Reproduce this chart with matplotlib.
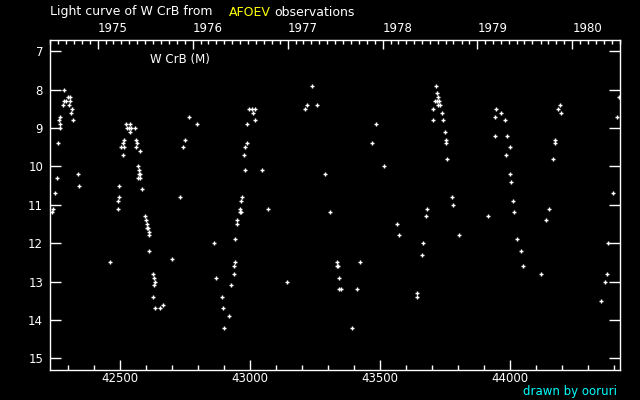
import datetime as dt
import matplotlib
matplotlib.use("Agg")
import matplotlib.pyplot as plt

# ---- data (JD - 2400000, visual magnitude) ----
jd = [42238, 42242, 42250, 42258, 42261, 42265, 42269, 42269, 42269, 42281,
      42285, 42285, 42292, 42300, 42304, 42305, 42308, 42311, 42315, 42319,
      42338, 42342, 42462, 42492, 42492, 42496, 42496, 42504, 42512, 42512,
      42515, 42515, 42523, 42527, 42535, 42539, 42539, 42542, 42558, 42562,
      42562, 42565, 42569, 42569, 42573, 42573, 42577, 42577, 42577, 42585,
      42596, 42600, 42604, 42604, 42608, 42612, 42612, 42612, 42627, 42627,
      42631, 42631, 42635, 42635, 42654, 42666, 42700, 42731, 42743, 42750,
      42766, 42796, 42862, 42870, 42893, 42897, 42900, 42920, 42927, 42939,
      42939, 42943, 42943, 42950, 42950, 42962, 42962, 42966, 42966, 42970,
      42977, 42981, 42981, 42989, 42989, 42997, 43008, 43010, 43020, 43020,
      43047, 43070, 43143, 43212, 43220, 43237, 43258, 43289, 43308, 43335,
      43335, 43339, 43343, 43343, 43351, 43393, 43412, 43424, 43470, 43485,
      43516, 43566, 43573, 43643, 43643, 43663, 43666, 43678, 43682, 43705,
      43705, 43712, 43716, 43720, 43720, 43724, 43724, 43728, 43732, 43739,
      43743, 43751, 43755, 43755, 43759, 43778, 43782, 43805, 43916, 43944,
      43944, 43947, 43964, 43982, 43986, 43990, 44001, 44001, 44005, 44013,
      44017, 44028, 44044, 44051, 44120, 44140, 44151, 44167, 44172, 44174,
      44186, 44194, 44197, 44351, 44367, 44375, 44378, 44398, 44413, 44421]
mag = [11.2, 11.1, 10.7, 10.3, 9.4, 8.8, 8.7, 8.9, 9.0, 8.4,
       8.0, 8.3, 8.3, 8.2, 8.4, 8.2, 8.3, 8.6, 8.5, 8.8,
       10.2, 10.5, 12.5, 10.9, 11.1, 10.5, 10.8, 9.5, 9.4, 9.7,
       9.3, 9.5, 8.9, 9.0, 9.0, 8.9, 9.1, 9.0, 9.0, 9.3,
       9.5, 9.4, 10.0, 10.3, 10.1, 10.2, 10.2, 10.3, 9.6, 10.6,
       11.3, 11.4, 11.5, 11.6, 11.6, 11.7, 11.8, 12.2, 12.8, 13.4,
       12.9, 13.1, 13.0, 13.7, 13.7, 13.6, 12.4, 10.8, 9.5, 9.3,
       8.7, 8.9, 12.0, 12.9, 13.4, 13.7, 14.2, 13.9, 13.1, 12.6,
       12.8, 12.5, 11.9, 11.4, 11.5, 11.1, 11.2, 10.9, 11.2, 10.8,
       9.7, 9.5, 10.1, 8.9, 9.4, 8.5, 8.5, 8.6, 8.5, 8.8,
       10.1, 11.1, 13.0, 8.5, 8.4, 7.9, 8.4, 10.2, 11.2, 12.5,
       12.6, 12.6, 12.9, 13.2, 13.2, 14.2, 13.2, 12.5, 9.4, 8.9,
       10.0, 11.5, 11.8, 13.3, 13.4, 12.3, 12.0, 11.3, 11.1, 8.5,
       8.8, 8.3, 7.9, 8.1, 8.3, 8.2, 8.4, 8.3, 8.4, 8.6,
       8.8, 9.1, 9.3, 9.4, 9.8, 10.8, 11.0, 11.8, 11.3, 8.7,
       9.2, 8.5, 8.6, 8.8, 9.7, 9.2, 9.5, 10.2, 10.4, 10.9,
       11.2, 11.9, 12.2, 12.6, 12.8, 11.4, 11.1, 9.8, 9.4, 9.3,
       8.5, 8.4, 8.6, 13.5, 13.0, 12.8, 12.0, 10.7, 8.7, 8.2]
years = [1975, 1976, 1977, 1978, 1979, 1980]
jd_ticks = [42500, 43000, 43500, 44000]
mag_ticks = [7, 8, 9, 10, 11, 12, 13, 14, 15]


def jd_of(y, m=1, d=1):
    # JD - 2400000 at 0h UT
    return (dt.date(y, m, d) - dt.date(1858, 11, 17)).days + 0.5


plt.rcParams['font.family'] = ['DejaVu Sans']
fig = plt.figure(figsize=(6.4, 4.0), dpi=100, facecolor='black')
ax = fig.add_axes([50 / 640, 30 / 400, 570 / 640, 330 / 400], facecolor='black')

ax.plot(jd, mag, linestyle='none', marker='+', color='white',
        markersize=3.2, markeredgewidth=1.0)

ax.set_xlim(42229.4, 44423.4)
ax.set_ylim(15.305, 6.706)

for s in ax.spines.values():
    s.set_color('white')
    s.set_linewidth(1.0)

ax.set_xticks(jd_ticks)
ax.set_xticks(range(42300, 44423, 100), minor=True)
ax.set_yticks(mag_ticks)
ax.set_yticks([], minor=True)
ax.tick_params(axis='x', which='major', direction='in', length=7, width=1,
               color='white', labelcolor='white', labelsize=8.5, pad=1.5,
               top=False, bottom=True)
ax.tick_params(axis='x', which='minor', direction='in', length=3.6, width=1,
               color='white', top=False, bottom=True)
ax.tick_params(axis='y', which='major', direction='in', length=8, width=1,
               color='white', labelcolor='white', labelsize=8.5, pad=5,
               left=True, right=True)

# top axis: calendar years with monthly minor ticks
ax2 = ax.twiny()
ax2.set_xlim(ax.get_xlim())
ax2.set_xticks([jd_of(y) for y in years])
ax2.set_xticklabels([str(y) for y in years], ha='left')
months = [jd_of(y, m) for y in range(1974, 1981) for m in range(1, 13)]
months = [v for v in months if 42229.4 <= v <= 44423.4]
ax2.set_xticks(months, minor=True)
ax2.tick_params(axis='x', which='major', direction='in', length=6.5, width=1,
                color='white', labelcolor='white', labelsize=8.5, pad=3.5)
ax2.tick_params(axis='x', which='minor', direction='in', length=3, width=1,
                color='white')
for s in ax2.spines.values():
    s.set_visible(False)

# texts
fig.text(50 / 640, 1 - 12 / 400, "Light curve of W CrB from", color='white',
         fontsize=9, ha='left', va='center')
fig.text(229 / 640, 1 - 12 / 400, "AFOEV", color='#ffff00',
         fontsize=9, ha='left', va='center')
fig.text(274 / 640, 1 - 12 / 400, "observations", color='white',
         fontsize=9, ha='left', va='center')
fig.text(150 / 640, 1 - 60 / 400, "W CrB (M)", color='white',
         fontsize=8.5, ha='left', va='center')
fig.text(617 / 640, 1 - 391 / 400, "drawn by ooruri", color='#00ffff',
         fontsize=8.5, ha='right', va='center')

fig.savefig("out.png", dpi=100, facecolor='black')
